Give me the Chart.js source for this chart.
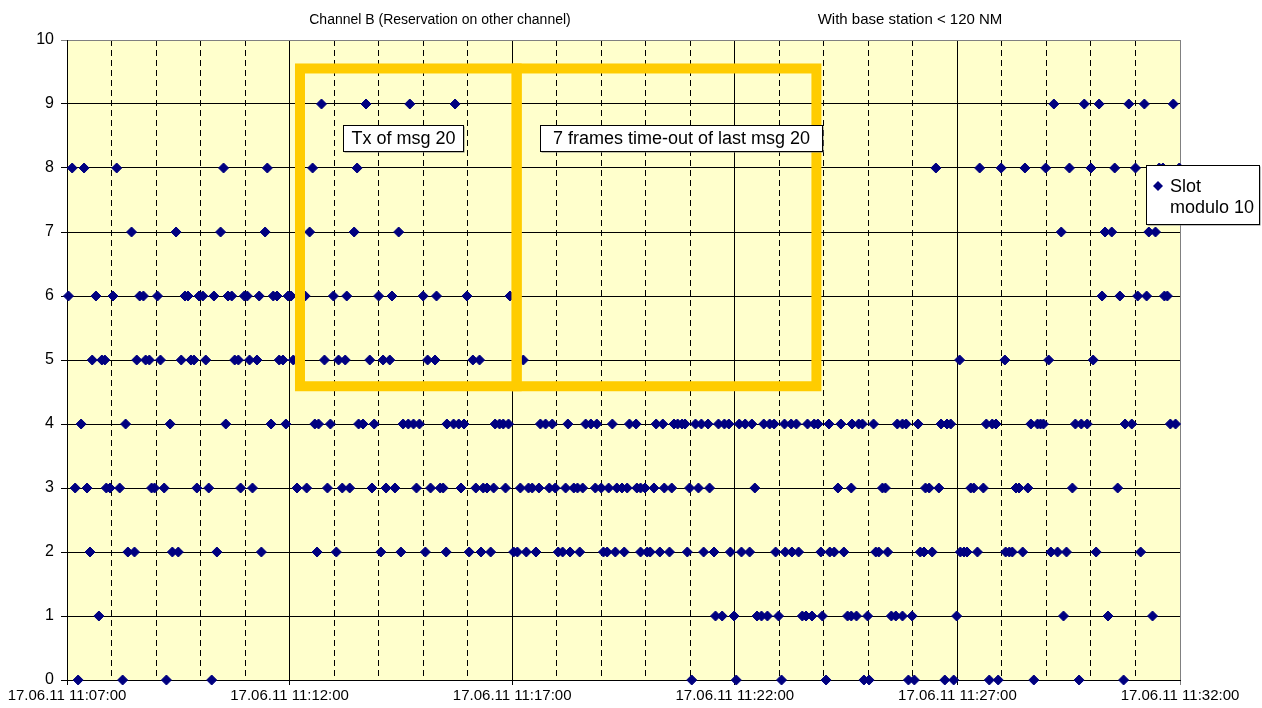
<!DOCTYPE html>
<html>
<head>
<meta charset="utf-8">
<script src="https://cdn.jsdelivr.net/npm/chart.js@4"></script>
<style>
  html, body { margin: 0; padding: 0; background: #fff; }
  #wrap { width: 1262px; height: 708px; position: relative; }
</style>
</head>
<body>
<div id="wrap"><canvas id="slotChart"></canvas></div>
<script>
// Slot modulo 10 of received msgs, channel B
// x values: seconds after 17.06.11 11:07:00
const slot0Times = [15, 75, 134, 195, 842, 902, 963, 1023, 1074, 1081, 1134, 1142, 1183, 1195, 1243, 1255, 1303, 1364, 1424];
const slot1Times = [43, 874, 883, 899, 930, 936, 944, 959, 991, 996, 1004, 1018, 1052, 1057, 1064, 1079, 1111, 1117, 1126, 1139, 1199, 1343, 1403, 1463];
const slot2Times = [31, 82, 91, 142, 150, 202, 262, 337, 363, 423, 450, 483, 511, 542, 558, 571, 602, 607, 619, 632, 662, 668, 678, 691, 723, 728, 739, 751, 773, 782, 786, 799, 812, 836, 858, 872, 894, 909, 920, 955, 968, 977, 986, 1016, 1028, 1034, 1047, 1090, 1094, 1106, 1150, 1155, 1166, 1204, 1209, 1213, 1227, 1265, 1270, 1274, 1288, 1326, 1335, 1347, 1387, 1447];
const slot3Times = [11, 27, 53, 58, 71, 114, 118, 131, 175, 191, 234, 250, 310, 323, 351, 371, 381, 411, 430, 442, 471, 490, 503, 507, 531, 551, 561, 566, 575, 591, 611, 622, 627, 636, 650, 658, 672, 683, 688, 695, 712, 720, 730, 741, 748, 755, 768, 773, 779, 791, 805, 815, 839, 851, 866, 927, 1039, 1057, 1099, 1103, 1157, 1162, 1175, 1218, 1222, 1235, 1279, 1283, 1295, 1355, 1416];
const slot4Times = [19, 79, 139, 214, 275, 295, 334, 339, 355, 393, 399, 414, 453, 460, 467, 475, 512, 521, 528, 535, 577, 583, 588, 595, 638, 645, 654, 675, 699, 706, 714, 735, 758, 767, 794, 803, 818, 823, 829, 833, 847, 855, 864, 878, 886, 892, 906, 914, 923, 939, 947, 953, 967, 976, 983, 998, 1007, 1012, 1027, 1043, 1058, 1067, 1072, 1087, 1119, 1126, 1131, 1147, 1178, 1186, 1191, 1239, 1247, 1252, 1299, 1308, 1312, 1316, 1359, 1367, 1375, 1426, 1435, 1487, 1494];
const slot5Times = [34, 47, 51, 94, 106, 111, 126, 154, 167, 171, 187, 226, 231, 246, 256, 286, 291, 305, 347, 366, 375, 408, 426, 435, 486, 496, 547, 556, 615, 1203, 1264, 1323, 1383];
const slot6Times = [2, 39, 62, 98, 103, 122, 159, 163, 178, 183, 198, 217, 222, 239, 243, 259, 278, 283, 298, 302, 321, 359, 377, 420, 438, 480, 498, 539, 597, 1395, 1419, 1443, 1455, 1479, 1483];
const slot7Times = [87, 147, 207, 267, 327, 387, 447, 1340, 1399, 1408, 1458, 1467];
const slot8Times = [7, 23, 67, 211, 270, 331, 391, 1171, 1230, 1259, 1291, 1319, 1351, 1380, 1412, 1440, 1472, 1477, 1499];
const slot9Times = [343, 403, 462, 523, 1330, 1371, 1391, 1431, 1452, 1491];

const slotTimes = [slot0Times, slot1Times, slot2Times, slot3Times, slot4Times,
                   slot5Times, slot6Times, slot7Times, slot8Times, slot9Times];

const startSec = 11 * 3600 + 7 * 60;   // 11:07:00
const spanSec = 25 * 60;               // to 11:32:00
const majorStep = 300;                 // 5 min labels
const minorStep = 60;                  // 1 min dashed lines

const titleLeft = 'Channel B (Reservation on other channel)';
const titleRight = 'With base station < 120 NM';
const legendLines = ['Slot', 'modulo 10'];

// yellow frames: edges in seconds / slot units
const frameEdgesSec = [314, 606, 1010];
const frameBottom = 4.59;
const frameTop = 9.555;

// note boxes: left/right edge (sec), top (slot units)
const notes = [
  { text: 'Tx of msg 20', x0: 372, x1: 534, y: 8.67 },
  { text: '7 frames time-out of last msg 20', x0: 638, x1: 1018, y: 8.67 }
];

const FONT = '"Liberation Sans", Arial, sans-serif';
Chart.defaults.font.family = FONT;
Chart.defaults.color = '#000';

const pad2 = n => String(n).padStart(2, '0');
function clockLabel(sec) {
  const t = startSec + sec;
  return '17.06.11 ' + pad2(Math.floor(t / 3600)) + ':' + pad2(Math.floor(t % 3600 / 60)) + ':' + pad2(t % 60);
}

const points = [];
slotTimes.forEach((times, slot) => {
  times.forEach(t => points.push({ x: t, y: slot }));
});

const decorations = {
  id: 'decorations',
  beforeDraw(chart) {
    const { ctx, chartArea: a } = chart;
    ctx.save();
    ctx.fillStyle = '#FFFFCC';
    ctx.fillRect(a.left, a.top, a.right - a.left, a.bottom - a.top);
    ctx.restore();
  },
  afterDatasetsDraw(chart) {
    const { ctx, scales: { x, y } } = chart;
    ctx.save();
    // yellow frames
    ctx.strokeStyle = '#FFCC00';
    ctx.lineWidth = 10;
    ctx.lineJoin = 'miter';
    const top = y.getPixelForValue(frameTop);
    const bottom = y.getPixelForValue(frameBottom);
    for (let i = 0; i < frameEdgesSec.length - 1; i++) {
      const l = x.getPixelForValue(frameEdgesSec[i]);
      const r = x.getPixelForValue(frameEdgesSec[i + 1]);
      ctx.strokeRect(l, top, r - l, bottom - top);
    }
    // note boxes
    ctx.font = '18px ' + FONT;
    ctx.textBaseline = 'middle';
    ctx.textAlign = 'center';
    notes.forEach(n => {
      const l = Math.round(x.getPixelForValue(n.x0)) + 0.5;
      const r = Math.round(x.getPixelForValue(n.x1)) + 0.5;
      const t = Math.round(y.getPixelForValue(n.y)) + 0.5;
      const w = r - l, h = 26;
      ctx.fillStyle = '#808080';
      ctx.fillRect(l + 1, t + 1, w, h);
      ctx.fillStyle = '#fff';
      ctx.fillRect(l, t, w, h);
      ctx.strokeStyle = '#000';
      ctx.lineWidth = 1;
      ctx.strokeRect(l, t, w, h);
      ctx.fillStyle = '#000';
      ctx.fillText(n.text, l + w / 2, t + h / 2 + 1);
    });
    // legend
    ctx.textAlign = 'left';
    const lx = 1146.5, ly = 165.5, lw = 113, lh = 59;
    ctx.fillStyle = '#808080';
    ctx.fillRect(lx + 1, ly + 1, lw, lh);
    ctx.fillStyle = '#fff';
    ctx.fillRect(lx, ly, lw, lh);
    ctx.strokeStyle = '#000';
    ctx.strokeRect(lx, ly, lw, lh);
    ctx.fillStyle = '#000080';
    ctx.beginPath();
    ctx.moveTo(1158, 181); ctx.lineTo(1163, 186); ctx.lineTo(1158, 191); ctx.lineTo(1153, 186);
    ctx.closePath();
    ctx.fill();
    ctx.fillStyle = '#000';
    ctx.fillText(legendLines[0], 1170, 187);
    ctx.fillText(legendLines[1], 1170, 208);
    ctx.restore();
  },
  afterDraw(chart) {
    const { ctx } = chart;
    ctx.save();
    ctx.fillStyle = '#000';
    ctx.textAlign = 'center';
    ctx.textBaseline = 'middle';
    ctx.font = '14px ' + FONT;
    ctx.fillText(titleLeft, 440, 20);
    ctx.font = '15px ' + FONT;
    ctx.fillText(titleRight, 910, 20);
    ctx.restore();
  }
};

new Chart(document.getElementById('slotChart'), {
  type: 'scatter',
  data: {
    datasets: [{
      label: legendLines.join(' '),
      data: points,
      clip: false,
      pointStyle: 'rectRot',
      radius: 5,
      hoverRadius: 5,
      backgroundColor: '#000080',
      borderColor: '#000080',
      borderWidth: 1
    }]
  },
  options: {
    responsive: true,
    maintainAspectRatio: false,
    animation: false,
    events: [],
    layout: { padding: { top: 40, right: 82, left: 0, bottom: 0 } },
    plugins: { legend: { display: false }, tooltip: { enabled: false }, title: { display: false } },
    scales: {
      x2: {
        type: 'linear', position: 'bottom', min: 0, max: spanSec,
        ticks: { display: false, stepSize: minorStep },
        grid: {
          drawTicks: false,
          color: c => (c.tick && c.tick.value % majorStep === 0) ? 'rgba(0,0,0,0)' : '#000'
        },
        border: { display: false, dash: [6, 4] },
        afterFit: s => { s.height = 0; }
      },
      x: {
        type: 'linear', position: 'bottom', min: 0, max: spanSec,
        ticks: { stepSize: majorStep, callback: v => clockLabel(v), autoSkip: false, maxRotation: 0, font: { size: 15 }, padding: 2 },
        grid: {
          tickLength: 5,
          color: c => (c.tick && c.tick.value === spanSec) ? '#808080' : '#000'
        },
        border: { color: '#000' },
        afterFit: s => { s.height = 28; }
      },
      y: {
        min: 0, max: 10,
        ticks: { stepSize: 1, font: { size: 16 }, padding: 7 },
        grid: {
          tickLength: 6,
          color: c => (c.tick && c.tick.value === 10) ? '#808080' : '#000'
        },
        border: { color: '#000' },
        afterFit: s => { s.width = 67; }
      }
    }
  },
  plugins: [decorations]
});
</script>
</body>
</html>
